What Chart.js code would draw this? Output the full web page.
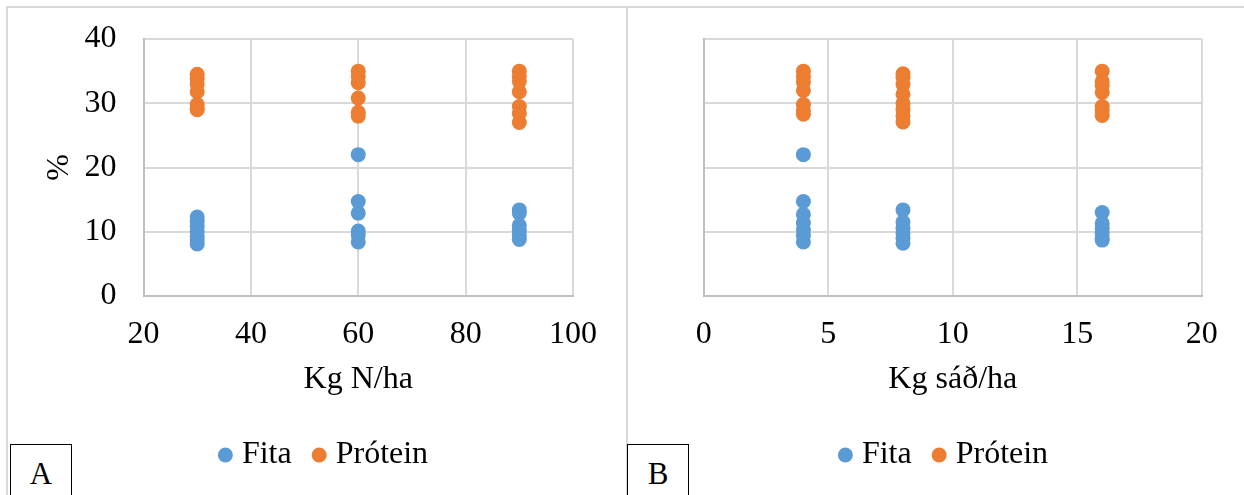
<!DOCTYPE html>
<html>
<head>
<meta charset="utf-8">
<script src="https://cdn.jsdelivr.net/npm/chart.js@4/dist/chart.umd.min.js"></script>
<style>
  html, body { margin: 0; padding: 0; background: #fff; }
  body { width: 1244px; height: 495px; position: relative; overflow: hidden;
         font-family: "Liberation Serif", "Times New Roman", serif; }
  .rule { position: absolute; background: #d9d9d9; }
  canvas { position: absolute; }
  .tag { position: absolute; box-sizing: border-box; border: 1.5px solid #000; background: #fff;
         width: 62px; height: 70px; font-size: 31px; line-height: 31px; text-align: center;
         padding-top: 13px; color: #000; }
</style>
</head>
<body>
  <div class="rule" style="left:6px;top:6px;width:1238px;height:2px;"></div>
  <div class="rule" style="left:6px;top:6px;width:2px;height:489px;"></div>
  <div class="rule" style="left:626px;top:6px;width:2px;height:489px;"></div>

  <canvas id="panelA" width="618" height="487" style="left:8px;top:8px;width:618px;height:487px;"></canvas>
  <canvas id="panelB" width="617" height="487" style="left:627px;top:8px;width:617px;height:487px;"></canvas>

  <div class="tag" style="left:10px;top:444px;">A</div>
  <div class="tag" style="left:627px;top:444px;">B</div>

<script>
// Nitrogen rate trial (panel A): fat and protein content, %
const nRates = [30, 60, 90];
const fitaByN = [
  [12.3, 11.6, 10.8, 10.0, 9.3, 8.7, 8.1],
  [22.0, 14.7, 12.9, 10.1, 9.5, 8.4],
  [13.4, 12.9, 11.0, 10.2, 9.5, 8.8]
];
const proteinByN = [
  [34.5, 33.8, 33.0, 31.8, 29.8, 29.2, 29.0],
  [35.0, 34.2, 33.2, 30.8, 28.6, 28.0],
  [35.0, 34.2, 33.4, 31.8, 29.5, 28.4, 27.0]
];

// Seeding rate trial (panel B): fat and protein content, %
const seedRates = [4, 8, 16];
const fitaBySeed = [
  [22.0, 14.7, 12.7, 11.4, 10.3, 9.4, 8.4],
  [13.4, 11.5, 10.5, 9.8, 9.0, 8.2],
  [13.0, 11.3, 10.5, 9.8, 9.0, 8.7]
];
const proteinBySeed = [
  [35.0, 34.2, 33.3, 32.0, 29.8, 28.9, 28.3],
  [34.6, 34.0, 32.9, 31.4, 30.0, 29.0, 28.0, 27.1],
  [35.0, 33.4, 32.8, 31.7, 29.5, 28.9, 28.1]
];

// Axis ticks
const xTicksA = [20, 40, 60, 80, 100];
const xTicksB = [0, 5, 10, 15, 20];
const yTicks = [0, 10, 20, 30, 40];

const BLUE = '#5B9BD5';
const ORANGE = '#ED7D31';
const FONT = { family: "'Liberation Serif', 'Times New Roman', serif", size: 32 };

function toPoints(rates, groups) {
  const pts = [];
  rates.forEach((r, i) => groups[i].forEach(v => pts.push({ x: r, y: v })));
  return pts;
}

function tickSetter(values) {
  return scale => { scale.ticks = values.map(v => ({ value: v })); };
}

function makePanel(id, cfg) {
  const dot = { pointRadius: 7.5, pointHoverRadius: 7.5, borderWidth: 0, pointStyle: 'circle' };
  return new Chart(document.getElementById(id), {
    type: 'scatter',
    data: {
      datasets: [
        Object.assign({ label: 'Fita', data: toPoints(cfg.rates, cfg.fita),
          backgroundColor: BLUE, borderColor: BLUE }, dot),
        Object.assign({ label: 'Prótein', data: toPoints(cfg.rates, cfg.protein),
          backgroundColor: ORANGE, borderColor: ORANGE }, dot)
      ]
    },
    options: {
      responsive: false,
      animation: false,
      devicePixelRatio: 1,
      layout: { padding: { left: cfg.padLeft, right: cfg.padRight, top: 31, bottom: 14 } },
      plugins: {
        tooltip: { enabled: false },
        legend: {
          position: 'bottom',
          labels: {
            usePointStyle: true, pointStyle: 'circle',
            boxWidth: 1, boxHeight: 10.6, padding: 27,
            color: '#000', font: FONT
          }
        }
      },
      scales: {
        x: {
          type: 'linear', min: cfg.xTicks[0], max: cfg.xTicks[cfg.xTicks.length - 1],
          afterBuildTicks: tickSetter(cfg.xTicks),
          afterFit: s => { s.height = 116; s.paddingLeft = 0; s.paddingRight = 0; },
          grid: { color: '#d9d9d9', lineWidth: 2, drawTicks: false },
          border: { color: '#bfbfbf', width: 2 },
          ticks: { padding: 19, color: '#000', font: FONT, maxRotation: 0 },
          title: { display: true, text: cfg.xTitle, color: '#000', font: FONT,
                   padding: { top: 0, bottom: 12.8 } }
        },
        y: {
          type: 'linear', min: 0, max: 40,
          afterBuildTicks: tickSetter(yTicks),
          afterFit: s => { s.width = cfg.yWidth; s.paddingTop = 0; s.paddingBottom = 0; },
          grid: { color: '#d9d9d9', lineWidth: 2, drawTicks: false },
          border: { color: '#bfbfbf', width: 2 },
          ticks: { padding: 27, color: '#000', font: FONT },
          title: { display: !!cfg.yTitle, text: cfg.yTitle || '', color: '#000', font: FONT,
                   padding: { top: cfg.yTitlePad || 0, bottom: 0 } }
        }
      }
    }
  });
}

function drawAll() {
  makePanel('panelA', {
    rates: nRates, fita: fitaByN, protein: proteinByN,
    xTicks: xTicksA, xTitle: 'Kg N/ha', yTitle: '%', yTitlePad: -39.2,
    padLeft: 72, padRight: 53, yWidth: 63.5
  });
  makePanel('panelB', {
    rates: seedRates, fita: fitaBySeed, protein: proteinBySeed,
    xTicks: xTicksB, xTitle: 'Kg sáð/ha',
    padLeft: 64.2, padRight: 42.2, yWidth: 12.6
  });
}

// Make sure the serif face is ready before the canvases are painted
if (document.fonts && document.fonts.load) {
  document.fonts.load("32px 'Liberation Serif'").then(drawAll, drawAll);
} else {
  drawAll();
}
</script>
</body>
</html>
